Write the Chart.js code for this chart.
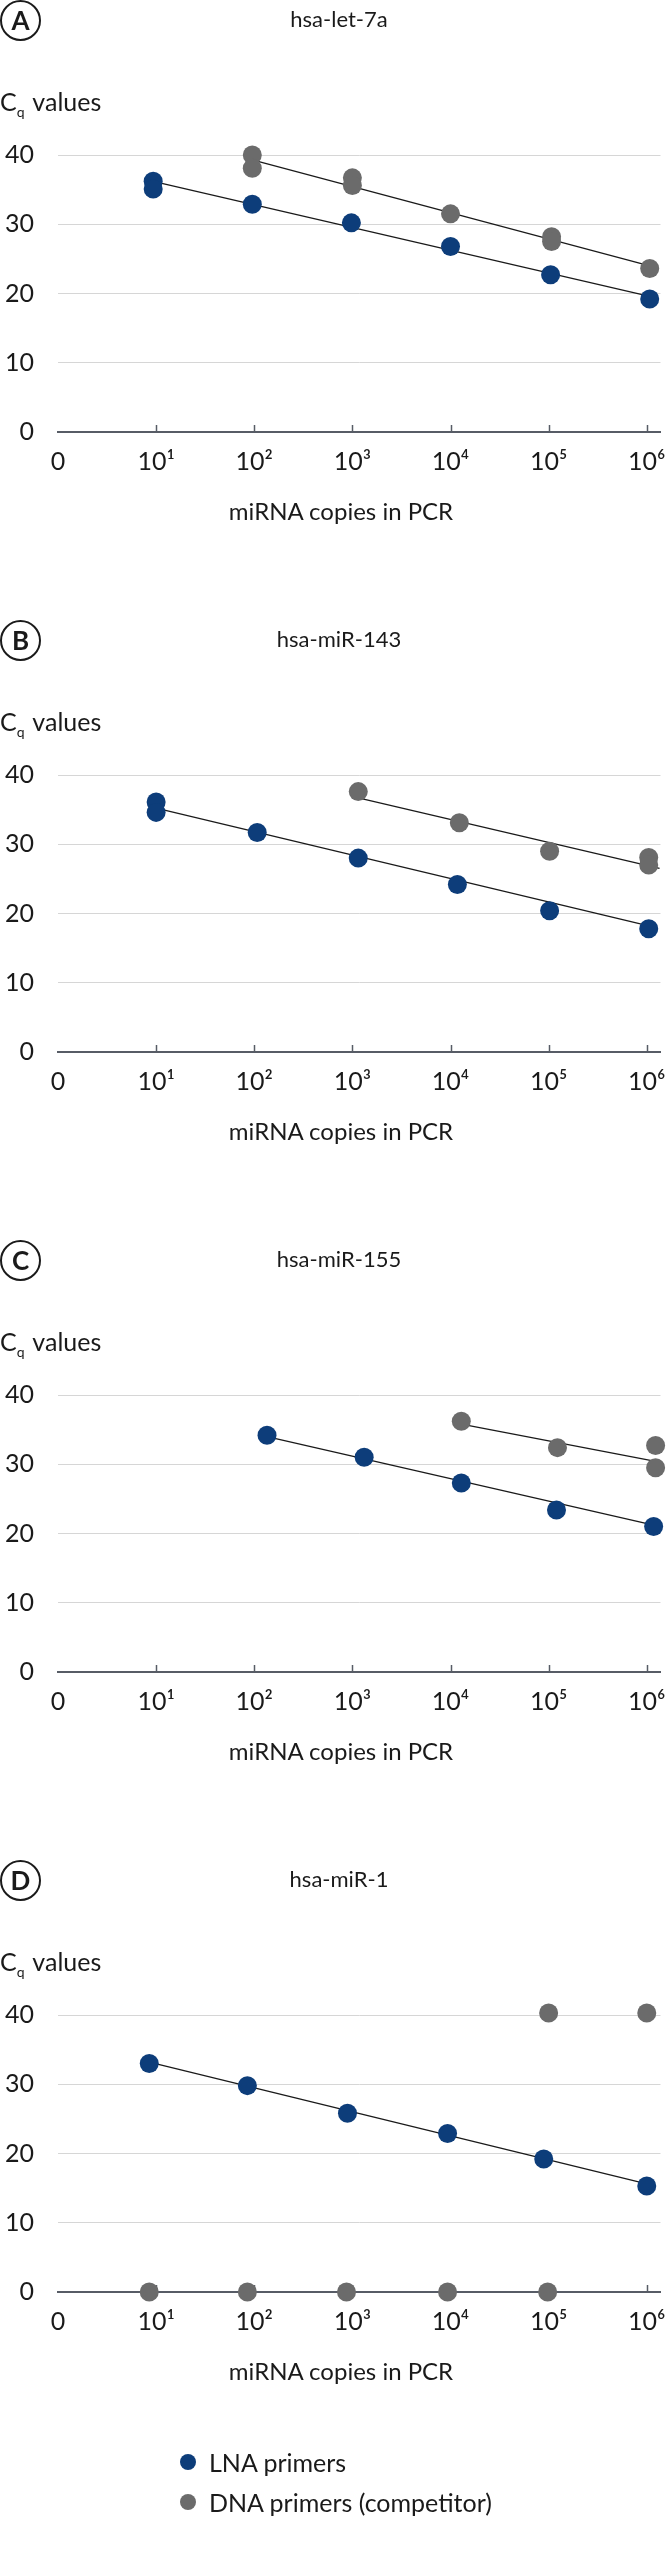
<!DOCTYPE html>
<html>
<head>
<meta charset="utf-8">
<script src="https://cdn.jsdelivr.net/npm/chart.js@4.4.1/dist/chart.umd.min.js"></script>
<style>
  html, body { margin: 0; padding: 0; background: #fff; }
  body { width: 670px; height: 2560px; position: relative; font-family: Lato, "Noto Sans", sans-serif; color: #1a1a1a; }
  .panel { position: absolute; left: 0; width: 670px; height: 620px; }
  .panel canvas { position: absolute; left: 0; top: 0; }
  .letter { position: absolute; left: 0; top: 0; width: 37px; height: 37px; border: 2px solid #1a1a1a; border-radius: 50%;
            font-weight: 700; font-size: 26px; line-height: 37px; text-align: center; }
  .ptitle { position: absolute; left: 339px; top: 5px; transform: translateX(-50%); font-size: 22px; line-height: 28px; white-space: nowrap; }
  .ylab { position: absolute; left: 0; top: 86px; font-size: 25px; line-height: 30px; white-space: nowrap; }
  .ylab sub { font-size: 14px; vertical-align: -6px; line-height: 0; margin-right: 2px; }
  .xlab { position: absolute; left: 341px; top: 496px; transform: translateX(-50%); font-size: 24px; line-height: 30px; white-space: nowrap; }
  .legend { position: absolute; left: 180px; top: 2445px; font-size: 25px; z-index: 5; }
  .legend .item { position: relative; height: 40px; line-height: 34px; padding-left: 29px; white-space: nowrap; }
  .legend .dot { position: absolute; left: 0; top: 9px; width: 16px; height: 16px; border-radius: 50%; }
</style>
</head>
<body>
<script>
// ---------- data ----------
const panelLetters = ['A', 'B', 'C', 'D'];
const panelTitles = ['hsa-let-7a', 'hsa-miR-143', 'hsa-miR-155', 'hsa-miR-1'];
const seriesNames = ['LNA primers', 'DNA primers (competitor)'];
const seriesColors = ['#0d3d7a', '#6b6b6b'];
const xTickValues = [0, 1, 2, 3, 4, 5, 6];
const xTickLabels = ['0', '10\u00B9', '10\u00B2', '10\u00B3', '10\u2074', '10\u2075', '10\u2076'];
const yTickValues = [0, 10, 20, 30, 40];

// panel A: hsa-let-7a (x = log10 of miRNA copies)
const aLnaX = [0.97, 0.97, 1.98, 2.99, 4.0, 5.02, 6.03];
const aLnaY = [36.2, 35.1, 32.9, 30.2, 26.8, 22.7, 19.2];
const aDnaX = [1.98, 1.98, 3.0, 3.0, 4.0, 5.03, 5.03, 6.03];
const aDnaY = [40.0, 38.1, 36.7, 35.6, 31.5, 28.2, 27.5, 23.6];
const aLnaFitX = [0.97, 6.03];
const aLnaFitY = [36.2, 19.6];
const aDnaFitX = [1.98, 6.03];
const aDnaFitY = [39.3, 24.0];

// panel B: hsa-miR-143
const bLnaX = [1.0, 1.0, 2.03, 3.06, 4.07, 5.01, 6.02];
const bLnaY = [36.1, 34.6, 31.7, 28.0, 24.2, 20.4, 17.8];
const bDnaX = [3.06, 4.09, 5.01, 6.02, 6.02];
const bDnaY = [37.6, 33.1, 29.0, 28.1, 27.0];
const bLnaFitX = [1.0, 6.02];
const bLnaFitY = [35.2, 18.2];
const bDnaFitX = [3.06, 6.13];
const bDnaFitY = [36.7, 26.5];

// panel C: hsa-miR-155
const cLnaX = [2.13, 3.12, 4.11, 5.08, 6.07];
const cLnaY = [34.2, 31.0, 27.3, 23.4, 21.0];
const cDnaX = [4.11, 5.09, 6.09, 6.09];
const cDnaY = [36.2, 32.4, 32.7, 29.5];
const cLnaFitX = [2.13, 6.07];
const cLnaFitY = [34.0, 21.2];
const cDnaFitX = [4.11, 6.09];
const cDnaFitY = [35.8, 30.4];

// panel D: hsa-miR-1
const dLnaX = [0.93, 1.93, 2.95, 3.97, 4.95, 6.0];
const dLnaY = [33.0, 29.8, 25.8, 22.9, 19.2, 15.3];
const dDnaX = [0.93, 1.93, 2.94, 3.97, 4.99, 5.0, 6.0];
const dDnaY = [0, 0, 0, 0, 0, 40.3, 40.3];
const dLnaFitX = [0.93, 6.0];
const dLnaFitY = [33.2, 15.6];
const dDnaFitX = [];
const dDnaFitY = [];

const panels = [
  [aLnaX, aLnaY, aDnaX, aDnaY, aLnaFitX, aLnaFitY, aDnaFitX, aDnaFitY],
  [bLnaX, bLnaY, bDnaX, bDnaY, bLnaFitX, bLnaFitY, bDnaFitX, bDnaFitY],
  [cLnaX, cLnaY, cDnaX, cDnaY, cLnaFitX, cLnaFitY, cDnaFitX, cDnaFitY],
  [dLnaX, dLnaY, dDnaX, dDnaY, dLnaFitX, dLnaFitY, dDnaFitX, dDnaFitY]
];

// ---------- helpers ----------
const pts = (xs, ys) => xs.map((x, i) => ({ x: x, y: ys[i] }));
const FONT = 'Lato, "Noto Sans", sans-serif';
const AXIS_COLOR = '#575c66';

// small upward tick marks on the x axis
const upTicks = {
  id: 'upTicks',
  beforeDatasetsDraw(chart) {
    const xs = chart.scales.x, ctx = chart.ctx, y0 = chart.chartArea.bottom;
    ctx.save();
    ctx.strokeStyle = AXIS_COLOR;
    ctx.lineWidth = 1.5;
    xs.ticks.forEach(t => {
      if (t.value === 0) return;
      const px = Math.round(xs.getPixelForValue(t.value)) + 0.5;
      ctx.beginPath();
      ctx.moveTo(px, y0);
      ctx.lineTo(px, y0 - 7);
      ctx.stroke();
    });
    ctx.restore();
  }
};

panels.forEach((p, i) => {
  const top = i * 620;
  const div = document.createElement('div');
  div.className = 'panel';
  div.style.top = top + 'px';
  div.innerHTML =
    '<canvas width="670" height="620"></canvas>' +
    '<div class="letter">' + panelLetters[i] + '</div>' +
    '<div class="ptitle">' + panelTitles[i] + '</div>' +
    '<div class="ylab">C<sub>q</sub> values</div>' +
    '<div class="xlab">miRNA copies in PCR</div>';
  document.body.appendChild(div);
  const canvas = div.querySelector('canvas');
  canvas.style.width = '670px';
  canvas.style.height = '620px';

  const datasets = [
    { type: 'scatter', label: seriesNames[1], data: pts(p[2], p[3]), backgroundColor: seriesColors[1],
      borderWidth: 0, pointRadius: 9.5, pointHoverRadius: 9.5, clip: false, order: 1 },
    { type: 'scatter', label: seriesNames[0], data: pts(p[0], p[1]), backgroundColor: seriesColors[0],
      borderWidth: 0, pointRadius: 9.5, pointHoverRadius: 9.5, clip: false, order: 0 },
    { type: 'line', label: 'fit LNA', data: pts(p[4], p[5]), borderColor: '#1a1a1a', borderWidth: 1.3,
      pointRadius: 0, fill: false, clip: false, order: 3 },
    { type: 'line', label: 'fit DNA', data: pts(p[6], p[7]), borderColor: '#1a1a1a', borderWidth: 1.3,
      pointRadius: 0, fill: false, clip: false, order: 3 }
  ];

  new Chart(canvas, {
    type: 'scatter',
    data: { datasets: datasets },
    options: {
      responsive: false,
      animation: false,
      devicePixelRatio: 1,
      layout: { padding: { top: 155, right: 6, bottom: 128, left: 0 } },
      plugins: { legend: { display: false }, tooltip: { enabled: false }, title: { display: false } },
      scales: {
        x: {
          type: 'linear', min: 0, max: 6.14,
          afterBuildTicks: s => { s.ticks = xTickValues.map(v => ({ value: v })); },
          afterFit: s => { s.height = 60; s.paddingLeft = 0; s.paddingRight = 0; },
          ticks: {
            callback: (v) => { const k = xTickValues.indexOf(v); return k >= 0 ? xTickLabels[k] : ''; },
            font: { family: FONT, size: 25 }, color: '#1a1a1a', padding: 15, maxRotation: 0, autoSkip: false
          },
          grid: { display: false, drawTicks: false },
          border: { display: true, color: AXIS_COLOR, width: 2 }
        },
        y: {
          type: 'linear', min: 0, max: 40,
          afterBuildTicks: s => { s.ticks = yTickValues.map(v => ({ value: v })); },
          afterFit: s => { s.width = 58; s.paddingTop = 0; s.paddingBottom = 0; },
          ticks: { font: { family: FONT, size: 25 }, color: '#1a1a1a', padding: 24 },
          grid: { color: '#d6d6d6', lineWidth: 1, drawTicks: false },
          border: { display: false }
        }
      }
    },
    plugins: [upTicks]
  });
});

// legend
const leg = document.createElement('div');
leg.className = 'legend';
seriesNames.forEach((n, k) => {
  const it = document.createElement('div');
  it.className = 'item';
  it.innerHTML = '<span class="dot" style="background:' + seriesColors[k] + '"></span>' + n;
  leg.appendChild(it);
});
document.body.appendChild(leg);
</script>
</body>
</html>
